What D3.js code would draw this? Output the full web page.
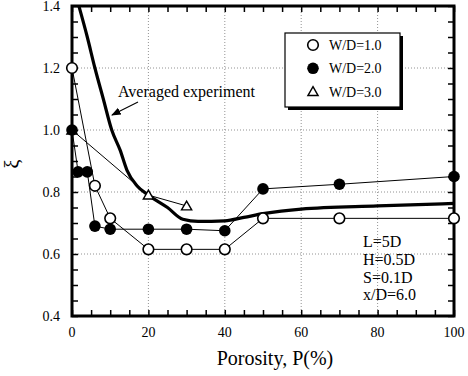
<!DOCTYPE html>
<html>
<head>
<style>
  body { margin: 0; background: #fff; }
  svg { font-family: "Liberation Serif", "DejaVu Serif", serif; }
  .grid line { stroke: #777; stroke-width: 0.8; stroke-dasharray: 1,2; }
  .thin { fill: none; stroke: #000; stroke-width: 1; }
</style>
</head>
<body>
<svg id="chart" width="468" height="376"></svg>
<script src="https://d3js.org/d3.v7.min.js"></script>
<script>
// W/D = 1.0 (open circles)
const wd1P = [0, 6, 10, 20, 30, 40, 50, 70, 100];
const wd1Xi = [1.2, 0.82, 0.715, 0.615, 0.615, 0.615, 0.715, 0.715, 0.715];
// W/D = 2.0 (filled circles)
const wd2P = [0, 1.6, 4, 6, 10, 20, 30, 40, 50, 70, 100];
const wd2Xi = [1.0, 0.865, 0.865, 0.69, 0.68, 0.68, 0.68, 0.675, 0.81, 0.825, 0.85];
// W/D = 3.0 (triangles)
const wd3P = [0, 20, 30];
const wd3Xi = [1.0, 0.79, 0.755];
// averaged experiment curve
const avgP = [1.8, 4, 6, 8.2, 10.4, 12.6, 14.4, 17, 20, 25, 29, 33, 40, 45, 50, 60, 80, 100];
const avgXi = [1.4, 1.3, 1.2, 1.1, 1.0, 0.935, 0.87, 0.82, 0.79, 0.75, 0.712, 0.705, 0.707, 0.718, 0.73, 0.745, 0.755, 0.763];

const xTicks = [0, 20, 40, 60, 80, 100];
const yTicks = [0.4, 0.6, 0.8, 1.0, 1.2, 1.4];
const legendLabels = ["W/D=1.0", "W/D=2.0", "W/D=3.0"];
const noteLines = ["L=5D", "H=0.5D", "S=0.1D", "x/D=6.0"];

const zip = (a, b) => a.map((v, i) => [v, b[i]]);

const svg = d3.select('#chart');
const pL = 72, pR = 454, pT = 6, pB = 316;
const x = d3.scaleLinear().domain([0, 100]).range([pL, pR]);
const y = d3.scaleLinear().domain([0.4, 1.4]).range([pB, pT]);

// dotted grid
const grid = svg.append('g').attr('class', 'grid');
grid.selectAll('.gx').data(xTicks.slice(1, -1)).enter().append('line')
  .attr('x1', d => x(d)).attr('x2', d => x(d)).attr('y1', pT).attr('y2', pB);
grid.selectAll('.gy').data(yTicks.slice(1, -1)).enter().append('line')
  .attr('y1', d => y(d)).attr('y2', d => y(d)).attr('x1', pL).attr('x2', pR);

// inward ticks on all four sides
const minorX = x.ticks(20), minorY = y.ticks(20);
function tickAxis(axis, tr) {
  const g = svg.append('g').attr('transform', tr).call(axis);
  g.select('.domain').remove();
  g.selectAll('text').remove();
  g.selectAll('line').attr('stroke', '#000').attr('stroke-width', 1.5);
}
tickAxis(d3.axisBottom(x).tickValues(minorX).tickSize(-6), `translate(0,${pB})`);
tickAxis(d3.axisTop(x).tickValues(minorX).tickSize(-6), `translate(0,${pT})`);
tickAxis(d3.axisLeft(y).tickValues(minorY).tickSize(-6), `translate(${pL},0)`);
tickAxis(d3.axisRight(y).tickValues(minorY).tickSize(-6), `translate(${pR},0)`);

// tick labels
svg.append('g').selectAll('text').data(xTicks).enter().append('text')
  .attr('x', d => x(d)).attr('y', 337).attr('text-anchor', 'middle')
  .attr('font-size', 14).text(d => d);
svg.append('g').selectAll('text').data(yTicks).enter().append('text')
  .attr('x', 60).attr('y', d => y(d) + 5).attr('text-anchor', 'end')
  .attr('font-size', 14).text(d => d.toFixed(1));

// frame
svg.append('rect').attr('x', pL).attr('y', pT)
  .attr('width', pR - pL).attr('height', pB - pT)
  .attr('fill', 'none').attr('stroke', '#000').attr('stroke-width', 3);

// clip for the bold curve
svg.append('clipPath').attr('id', 'clip').append('rect')
  .attr('x', pL).attr('y', pT).attr('width', pR - pL).attr('height', pB - pT);

const line = d3.line().x(d => x(d[0])).y(d => y(d[1]));

// thin series lines
svg.append('path').attr('class', 'thin').attr('d', line(zip(wd3P, wd3Xi)));
svg.append('path').attr('class', 'thin').attr('d', line(zip(wd2P, wd2Xi)));
svg.append('path').attr('class', 'thin').attr('d', line(zip(wd1P, wd1Xi)));

// averaged experiment
svg.append('path').attr('clip-path', 'url(#clip)')
  .attr('d', d3.line().x(d => x(d[0])).y(d => y(d[1])).curve(d3.curveMonotoneX)(zip(avgP, avgXi)))
  .attr('fill', 'none').attr('stroke', '#000').attr('stroke-width', 3.2);

// markers
const tri = d3.symbol().type(d3.symbolTriangle).size(45);
svg.append('g').selectAll('path').data(zip(wd3P, wd3Xi)).enter().append('path')
  .attr('d', tri).attr('transform', d => `translate(${x(d[0])},${y(d[1]) + 1})`)
  .attr('fill', '#fff').attr('stroke', '#000').attr('stroke-width', 1.4);
svg.append('g').selectAll('circle').data(zip(wd2P, wd2Xi)).enter().append('circle')
  .attr('cx', d => x(d[0])).attr('cy', d => y(d[1])).attr('r', 5.8).attr('fill', '#000');
svg.append('g').selectAll('circle').data(zip(wd1P, wd1Xi)).enter().append('circle')
  .attr('cx', d => x(d[0])).attr('cy', d => y(d[1])).attr('r', 5.3)
  .attr('fill', '#fff').attr('stroke', '#000').attr('stroke-width', 1.6);

// legend
const lg = svg.append('g');
lg.append('rect').attr('x', 288).attr('y', 36).attr('width', 115).attr('height', 74).attr('fill', '#000');
lg.append('rect').attr('x', 285).attr('y', 33).attr('width', 115).attr('height', 74)
  .attr('fill', '#fff').attr('stroke', '#000').attr('stroke-width', 1.2);
legendLabels.forEach((t, i) => {
  const cy = 45 + i * 23.3;
  if (i === 0) lg.append('circle').attr('cx', 313).attr('cy', cy).attr('r', 5.3)
    .attr('fill', '#fff').attr('stroke', '#000').attr('stroke-width', 1.6);
  if (i === 1) lg.append('circle').attr('cx', 313).attr('cy', cy).attr('r', 5.8).attr('fill', '#000');
  if (i === 2) lg.append('path').attr('d', tri).attr('transform', `translate(313,${cy + 1})`)
    .attr('fill', '#fff').attr('stroke', '#000').attr('stroke-width', 1.4);
  lg.append('text').attr('x', 329).attr('y', cy + 5).attr('font-size', 14).text(t);
});

// annotation label + arrow
svg.append('defs').append('marker').attr('id', 'ah').attr('viewBox', '0 0 10 10')
  .attr('refX', 9).attr('refY', 5).attr('markerWidth', 8).attr('markerHeight', 8)
  .attr('orient', 'auto').append('path').attr('d', 'M0,1 L10,5 L0,9 Z').attr('fill', '#000');
svg.append('line').attr('x1', 138).attr('y1', 102).attr('x2', 112).attr('y2', 115)
  .attr('stroke', '#000').attr('stroke-width', 1.2).attr('marker-end', 'url(#ah)');
svg.append('text').attr('x', 118).attr('y', 97).attr('font-size', 16).text('Averaged experiment');

// parameters
svg.append('g').selectAll('text').data(noteLines).enter().append('text')
  .attr('x', 363).attr('y', (d, i) => 247 + i * 17.8).attr('font-size', 16).text(d => d);

// axis titles
svg.append('text').attr('x', 275).attr('y', 365).attr('text-anchor', 'middle')
  .attr('font-size', 20).text('Porosity, P(%)');
svg.append('text').attr('transform', 'translate(19,164) rotate(-90)')
  .attr('text-anchor', 'middle').attr('font-size', 20).text('ξ');
</script>
</body>
</html>
